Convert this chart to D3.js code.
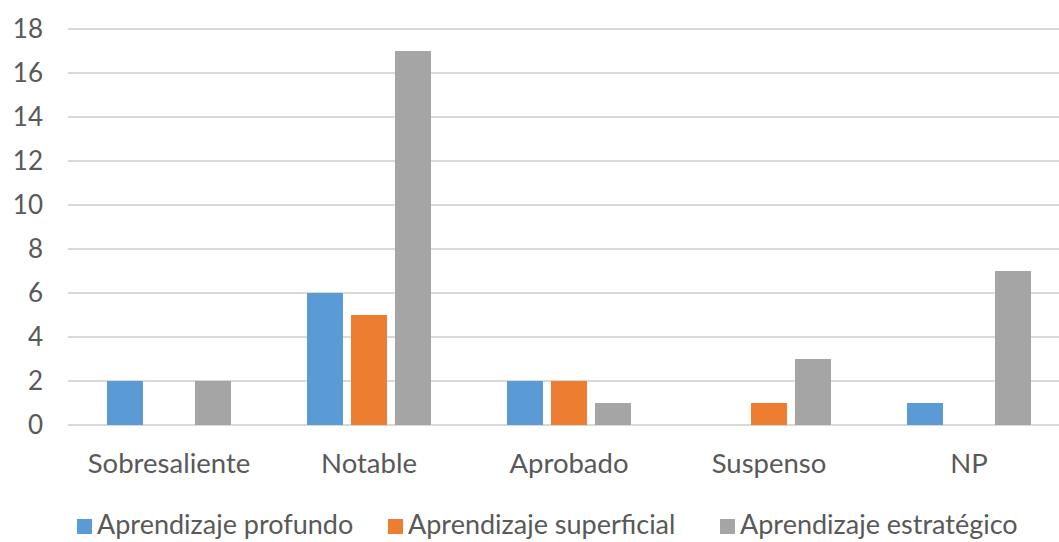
<!DOCTYPE html>
<html>
<head>
<meta charset="utf-8">
<script src="https://cdn.jsdelivr.net/npm/d3@7"></script>
<style>
  body { margin: 0; background: #fff; }
  svg text { font-family: Lato, "Open Sans", sans-serif; fill: #595959; }
</style>
</head>
<body>
<div id="chart"></div>
<script>
var categories = ["Sobresaliente", "Notable", "Aprobado", "Suspenso", "NP"];
var seriesNames = ["Aprendizaje profundo", "Aprendizaje superficial", "Aprendizaje estratégico"];
var profundo = [2, 6, 2, 0, 1];
var superficial = [0, 5, 2, 1, 0];
var estrategico = [2, 17, 1, 3, 7];
var yTicks = [0, 2, 4, 6, 8, 10, 12, 14, 16, 18];
var colors = ["#5b9bd5", "#ed7d31", "#a5a5a5"];

var width = 1059,
    height = 542;

var svg = d3.select("#chart")
    .append("svg")
    .attr("width", width)
    .attr("height", height);

var values = [profundo, superficial, estrategico];
var rows = categories.map(function(c, i) {
    return { cat: c, vals: values.map(function(v, j) { return { s: j, v: v[i] }; }) };
});

var x0 = d3.scaleBand()
    .domain(categories)
    .range([69, 1069])
    .padding(0);

var x1 = d3.scaleBand()
    .domain([0, 1, 2])
    .range([38, 162])
    .paddingInner(8 / 44);

var y = d3.scaleLinear()
    .domain([0, 18])
    .range([425, 29]);

/* gridlines */
svg.append("g")
    .selectAll("line")
    .data(yTicks)
    .enter().append("line")
        .attr("x1", 68)
        .attr("x2", width)
        .attr("y1", function(d) { return y(d); })
        .attr("y2", function(d) { return y(d); })
        .attr("stroke", "#d9d9d9")
        .attr("stroke-width", 2);

/* y tick labels */
svg.append("g")
    .selectAll("text")
    .data(yTicks)
    .enter().append("text")
        .attr("x", 43)
        .attr("y", function(d) { return y(d); })
        .attr("dy", "0.35em")
        .attr("text-anchor", "end")
        .style("font-size", "26px")
        .text(function(d) { return d; });

/* bars */
var groups = svg.append("g")
    .selectAll("g")
    .data(rows)
    .enter().append("g")
        .attr("transform", function(d) { return "translate(" + x0(d.cat) + ",0)"; });

groups.selectAll("rect")
    .data(function(d) { return d.vals.filter(function(e) { return e.v > 0; }); })
    .enter().append("rect")
        .attr("x", function(d) { return x1(d.s); })
        .attr("y", function(d) { return y(d.v); })
        .attr("width", x1.bandwidth())
        .attr("height", function(d) { return y(0) - y(d.v); })
        .attr("fill", function(d) { return colors[d.s]; });

/* category labels */
svg.append("g")
    .selectAll("text")
    .data(categories)
    .enter().append("text")
        .attr("x", function(d) { return x0(d) + x0.bandwidth() / 2; })
        .attr("y", 463)
        .attr("dy", "0.35em")
        .attr("text-anchor", "middle")
        .style("font-size", "27.5px")
        .text(function(d) { return d; });

/* legend */
var legendX = [77, 388, 720];
var legend = svg.append("g")
    .selectAll("g")
    .data(seriesNames)
    .enter().append("g")
        .attr("transform", function(d, i) { return "translate(" + legendX[i] + ",519)"; });

legend.append("rect")
    .attr("width", 15)
    .attr("height", 15)
    .attr("fill", function(d, i) { return colors[i]; });

legend.append("text")
    .attr("x", 20)
    .attr("y", 15)
    .style("font-size", "27px")
    .text(function(d) { return d; });
</script>
</body>
</html>
